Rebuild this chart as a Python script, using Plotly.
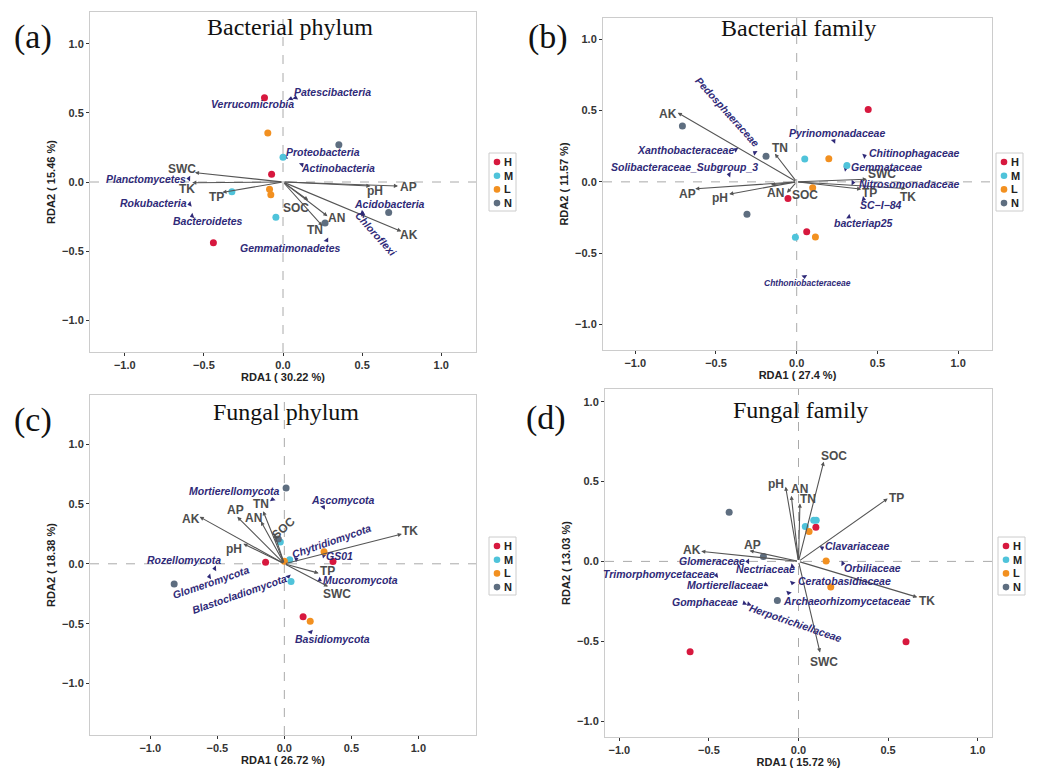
import numpy as np
import plotly.graph_objects as go

W, H = 1044, 768
GROUPS = ["H", "M", "L", "N"]
ENV = ["pH", "SOC", "TN", "AN", "TP", "AP", "TK", "AK", "SWC"]

# ---------------- (a) Bacterial phylum ----------------
a_site_x = {"H": [-0.117, -0.072, -0.44], "M": [0.0, -0.323, -0.045],
            "L": [-0.096, -0.085, -0.077], "N": [0.353, 0.668, 0.266]}
a_site_y = {"H": [0.609, 0.056, -0.439], "M": [0.179, -0.07, -0.255],
            "L": [0.354, -0.053, -0.092], "N": [0.269, -0.221, -0.296]}
a_env_x = [0.553, 0.159, 0.249, 0.281, -0.383, 0.727, -0.574, 0.748, -0.557]
a_env_y = [-0.029, -0.131, -0.318, -0.247, -0.075, -0.029, -0.005, -0.357, 0.068]
a_taxa = ["Patescibacteria", "Verrucomicrobia", "Proteobacteria", "Actinobacteria",
          "Planctomycetes", "Rokubacteria", "Bacteroidetes", "Acidobacteria",
          "Chloroflexi", "Gemmatimonadetes"]
a_taxa_x = [0.079, 0.049, 0.015, 0.119, -0.595, -0.589, -0.574, 0.5, 0.506, 0.276]
a_taxa_y = [0.609, 0.602, 0.179, 0.126, 0.024, -0.16, -0.245, -0.223, -0.233, -0.422]

# ---------------- (b) Bacterial family ----------------
b_site_x = {"H": [0.443, -0.054, 0.062], "M": [0.05, 0.311, -0.008],
            "L": [0.199, 0.099, 0.116], "N": [-0.708, -0.19, -0.308]}
b_site_y = {"H": [0.508, -0.117, -0.35], "M": [0.161, 0.114, -0.389],
            "L": [0.163, -0.042, -0.387], "N": [0.392, 0.179, -0.228]}
b_env_x = [-0.418, -0.06, -0.135, -0.159, 0.4, -0.629, 0.675, -0.737, 0.435]
b_env_y = [-0.086, -0.077, 0.198, -0.021, -0.051, -0.049, -0.047, 0.485, 0.019]
b_taxa = ["Pedosphaeraceae", "Xanthobacteraceae", "Solibacteraceae_Subgroup_3",
          "Pyrinomonadaceae", "Chitinophagaceae", "Gemmataceae", "Nitrosomonadaceae",
          "SC\u2212I\u221284", "bacteriap25", "Chthoniobacteraceae"]
b_taxa_x = [-0.259, -0.377, -0.418, 0.23, 0.42, 0.302, 0.348, 0.414, 0.323, 0.048]
b_taxa_y = [0.205, 0.226, 0.051, 0.287, 0.182, 0.093, -0.005, -0.121, -0.245, -0.664]

# ---------------- (c) Fungal phylum ----------------
c_site_x = {"H": [-0.14, 0.363, 0.14], "M": [-0.03, 0.04, 0.05],
            "L": [0.296, 0.0, 0.193], "N": [0.013, -0.045, -0.822]}
c_site_y = {"H": [0.014, 0.02, -0.442], "M": [0.182, 0.034, -0.148],
            "L": [0.101, 0.022, -0.479], "N": [0.633, 0.207, -0.168]}
c_env_x = [-0.306, -0.075, -0.158, -0.175, 0.256, -0.351, 0.877, -0.632, 0.326]
c_env_y = [0.168, 0.252, 0.439, 0.355, -0.078, 0.392, 0.249, 0.392, -0.19]
c_taxa = ["Mortierellomycota", "Ascomycota", "Chytridiomycota", "GS01", "Rozellomycota",
          "Glomeromycota", "Blastocladiomycota", "Mucoromycota", "Basidiomycota"]
c_taxa_x = [-0.088, 0.291, 0.088, 0.293, -0.519, -0.559, 0.03, 0.263, 0.196]
c_taxa_y = [0.537, 0.473, 0.039, 0.07, -0.039, -0.106, -0.106, -0.134, -0.569]

# ---------------- (d) Fungal family ----------------
d_site_x = {"H": [0.097, 0.6, -0.605], "M": [0.038, 0.085, 0.099],
            "L": [0.059, 0.154, 0.18], "N": [-0.387, -0.196, -0.118]}
d_site_y = {"H": [0.214, -0.503, -0.566], "M": [0.218, 0.258, 0.258],
            "L": [0.187, 0.002, -0.161], "N": [0.308, 0.031, -0.245]}
d_env_x = [-0.072, 0.141, 0.008, -0.04, 0.498, -0.273, 0.663, -0.543, 0.12]
d_env_y = [0.468, 0.625, 0.363, 0.411, 0.394, 0.067, -0.224, 0.063, -0.57]
d_taxa = ["Clavariaceae", "Orbiliaceae", "Glomeraceae", "Nectriaceae",
          "Trimorphomycetaceae", "Mortierellaceae", "Ceratobasidiaceae",
          "Archaeorhizomycetaceae", "Gomphaceae", "Herpotrichiellaceae"]
d_taxa_x = [0.131, 0.247, -0.283, -0.034, -0.458, -0.182, -0.034, -0.055, -0.302, -0.277]
d_taxa_y = [0.084, -0.013, 0.0, -0.031, -0.088, -0.145, -0.134, -0.197, -0.262, -0.268]

TICKS = [-1.0, -0.5, 0.0, 0.5, 1.0]

# ---------------- styling / layout (not data) ----------------
SANS = "Liberation Sans, Arial, sans-serif"
SERIF = "Liberation Serif, Times New Roman, serif"
GROUP_COLORS = {"H": "#D7183E", "M": "#4FC3DA", "L": "#F29020", "N": "#5E6E80"}
NAVY = "#2F2A78"
ENV_TXT = "#4D4D4D"
ARROW = "#555555"

# label offsets in pixels (xshift, yshift[, angle])
a_env_off = {"pH": (5, -5), "SOC": (-12, -8), "TN": (-7, -4), "AN": (9, -2), "TP": (-6, -5),
             "AP": (10, -1), "TK": (-5, -6), "AK": (8, -4), "SWC": (-13, 4)}
b_env_off = {"pH": (-9, -4), "SOC": (18, -2), "TN": (5, 6), "AN": (4, -8), "TP": (8, -4),
             "AP": (-8, -5), "TK": (2, -8), "AK": (-10, -1), "SWC": (15, 5)}
c_env_off = {"pH": (-9, -5), "SOC": (9, 6, -42), "TN": (-2, 7), "AN": (-7, 3), "TP": (9, 2),
             "AP": (-2, 7), "TK": (8, 3), "AK": (-9, -2), "SWC": (9, -7)}
d_env_off = {"pH": (-10, 3), "SOC": (10, 6), "TN": (8, 4), "AN": (8, 7), "TP": (9, 1),
             "AP": (3, 6), "TK": (10, -4), "AK": (-9, 1), "SWC": (4, -10)}

a_taxa_off = [(37, 6), (-38, -5), (38, 5), (36, -3), (-43, 0), (-36, 1), (16, -5), (27, 9),
              (13, -20, 48), (-36, -8)]
b_taxa_off = [(-27, 41, 48), (-50, 0), (-45, 8), (3, 8), (50, 3), (41, 2), (57, -1), (17, -6),
              (15, -6), (3, -7)]
c_taxa_off = [(-38, 9), (20, 7), (35, 18, -19), (16, -1), (-31, 8), (2, -6, -19),
              (-49, -18, -19), (41, 0), (22, -7)]
d_taxa_off = [(35, 2), (30, -5), (-36, 0), (-27, -3), (-57, 1), (-40, 0), (52, 2), (58, -8),
              (-39, 1), (47, -19, 19)]

panels = [
    dict(sx=a_site_x, sy=a_site_y, ex=a_env_x, ey=a_env_y, eoff=a_env_off,
         tn=a_taxa, tx=a_taxa_x, ty=a_taxa_y, toff=a_taxa_off,
         xdom=(90, 476), ydom=(12, 352), xr=(-1.22, 1.22), yr=(-1.23, 1.23),
         xt="RDA1 ( 30.22 %)", yt="RDA2 ( 15.46 %)", title="Bacterial phylum",
         tpos=(290, 27), letter="(a)", lpos=(33, 37), leg=(489, 153), small=[]),
    dict(sx=b_site_x, sy=b_site_y, ex=b_env_x, ey=b_env_y, eoff=b_env_off,
         tn=b_taxa, tx=b_taxa_x, ty=b_taxa_y, toff=b_taxa_off,
         xdom=(603, 992), ydom=(18, 350), xr=(-1.2, 1.21), yr=(-1.18, 1.15),
         xt="RDA1 ( 27.4 %)", yt="RDA2 ( 11.57 %)", title="Bacterial family",
         tpos=(798, 28), letter="(b)", lpos=(548, 37), leg=(996, 153),
         small=["Chthoniobacteraceae"]),
    dict(sx=c_site_x, sy=c_site_y, ex=c_env_x, ey=c_env_y, eoff=c_env_off,
         tn=c_taxa, tx=c_taxa_x, ty=c_taxa_y, toff=c_taxa_off,
         xdom=(90, 476), ydom=(395, 735), xr=(-1.45, 1.43), yr=(-1.43, 1.41),
         xt="RDA1 ( 26.72 %)", yt="RDA2 ( 18.38 %)", title="Fungal phylum",
         tpos=(286, 412), letter="(c)", lpos=(33, 420), leg=(489, 537), small=[]),
    dict(sx=d_site_x, sy=d_site_y, ex=d_env_x, ey=d_env_y, eoff=d_env_off,
         tn=d_taxa, tx=d_taxa_x, ty=d_taxa_y, toff=d_taxa_off,
         xdom=(605, 992), ydom=(389, 737), xr=(-1.08, 1.08), yr=(-1.1, 1.08),
         xt="RDA1 ( 15.72 %)", yt="RDA2 ( 13.03 %)", title="Fungal family",
         tpos=(800, 410), letter="(d)", lpos=(546, 418), leg=(998, 537), small=[]),
]

fig = go.Figure()
layout = {}
annotations = []
shapes = []

for i, p in enumerate(panels, start=1):
    xa = "x" if i == 1 else f"x{i}"
    ya = "y" if i == 1 else f"y{i}"
    xkey = "xaxis" if i == 1 else f"xaxis{i}"
    ykey = "yaxis" if i == 1 else f"yaxis{i}"
    x0, x1 = p["xdom"]
    y0, y1 = p["ydom"]
    common = dict(showline=True, mirror=True, linecolor="#CCCCCC", linewidth=1,
                  ticks="outside", ticklen=3, tickcolor="#333333", tickwidth=1,
                  tickvals=TICKS, tickformat=".1f", showgrid=False, zeroline=False,
                  tickfont=dict(family=SANS, size=11, color="#333333", weight="bold"))
    layout[xkey] = dict(domain=[x0 / W, x1 / W], range=list(p["xr"]), anchor=ya,
                        title=dict(text=p["xt"], standoff=3,
                                   font=dict(family=SANS, size=11, color="#222222", weight="bold")),
                        **common)
    layout[ykey] = dict(domain=[1 - y1 / H, 1 - y0 / H], range=list(p["yr"]), anchor=xa,
                        title=dict(text=p["yt"], standoff=4,
                                   font=dict(family=SANS, size=11, color="#222222", weight="bold")),
                        **common)
    # dashed zero lines
    shapes.append(dict(type="line", xref=xa, yref=f"{ya} domain", x0=0, x1=0, y0=0, y1=1,
                       line=dict(color="#AAAAAA", width=1, dash="dash"), layer="below"))
    shapes.append(dict(type="line", xref=f"{xa} domain", yref=ya, x0=0, x1=1, y0=0, y1=0,
                       line=dict(color="#AAAAAA", width=1, dash="dash"), layer="below"))

    # environmental arrows
    for name, ex, ey in zip(ENV, p["ex"], p["ey"]):
        annotations.append(dict(x=ex, y=ey, ax=0, ay=0, xref=xa, yref=ya, axref=xa, ayref=ya,
                                text="", showarrow=True, arrowhead=2, arrowsize=0.75,
                                arrowwidth=1.1, arrowcolor=ARROW))
        off = p["eoff"][name]
        annotations.append(dict(x=ex, y=ey, xref=xa, yref=ya, text=name, showarrow=False,
                                xshift=off[0], yshift=off[1],
                                textangle=off[2] if len(off) > 2 else 0,
                                font=dict(family=SANS, size=12, color=ENV_TXT, weight="bold")))

    # taxa markers (triangles pointing away from the origin)
    sxp = (x1 - x0) / (p["xr"][1] - p["xr"][0])
    syp = (y1 - y0) / (p["yr"][1] - p["yr"][0])
    tx = np.array(p["tx"])
    ty = np.array(p["ty"])
    ang = np.degrees(np.arctan2(tx * sxp, ty * syp))
    fig.add_trace(go.Scatter(x=tx, y=ty, mode="markers", xaxis=xa, yaxis=ya,
                             marker=dict(symbol="triangle-up", size=5, color=NAVY, angle=ang),
                             showlegend=False, hoverinfo="skip"))
    for name, txi, tyi, off in zip(p["tn"], tx, ty, p["toff"]):
        annotations.append(dict(x=txi, y=tyi, xref=xa, yref=ya, text=name, showarrow=False,
                                xshift=off[0], yshift=off[1],
                                textangle=off[2] if len(off) > 2 else 0,
                                font=dict(family=SANS, size=8.5 if name in p["small"] else 10.5,
                                          color=NAVY, weight="bold", style="italic")))

    # sample points
    for g in GROUPS:
        fig.add_trace(go.Scatter(x=p["sx"][g], y=p["sy"][g], mode="markers", xaxis=xa, yaxis=ya,
                                 name=g, showlegend=False,
                                 marker=dict(size=7, color=GROUP_COLORS[g])))

    # panel title and letter
    annotations.append(dict(x=p["tpos"][0] / W, y=1 - p["tpos"][1] / H, xref="paper", yref="paper",
                            text=p["title"], showarrow=False, xanchor="center", yanchor="middle",
                            font=dict(family=SERIF, size=24, color="#111111")))
    annotations.append(dict(x=p["lpos"][0] / W, y=1 - p["lpos"][1] / H, xref="paper", yref="paper",
                            text=p["letter"], showarrow=False, xanchor="center", yanchor="middle",
                            font=dict(family=SERIF, size=34, color="#111111")))

    # compact legend box
    lx, ly = p["leg"]
    shapes.append(dict(type="rect", xref="paper", yref="paper", x0=lx / W, x1=(lx + 27) / W,
                       y0=1 - (ly + 58) / H, y1=1 - ly / H,
                       line=dict(color="#CCCCCC", width=1), fillcolor="white"))
    for k, g in enumerate(GROUPS):
        cy = ly + 9 + k * 13.7
        cx = lx + 8
        shapes.append(dict(type="circle", xref="paper", yref="paper",
                           x0=(cx - 3.3) / W, x1=(cx + 3.3) / W, y0=1 - (cy + 3.3) / H,
                           y1=1 - (cy - 3.3) / H, fillcolor=GROUP_COLORS[g],
                           line=dict(color=GROUP_COLORS[g], width=0)))
        annotations.append(dict(x=(cx + 5) / W, y=1 - cy / H, xref="paper", yref="paper",
                                text=g, showarrow=False, xanchor="left", yanchor="middle",
                                font=dict(family=SANS, size=11, color="#222222", weight="bold")))

fig.update_layout(width=W, height=H, margin=dict(l=0, r=0, t=0, b=0),
                  plot_bgcolor="white", paper_bgcolor="white", showlegend=False,
                  annotations=annotations, shapes=shapes, **layout)

fig.write_html("out.html")
